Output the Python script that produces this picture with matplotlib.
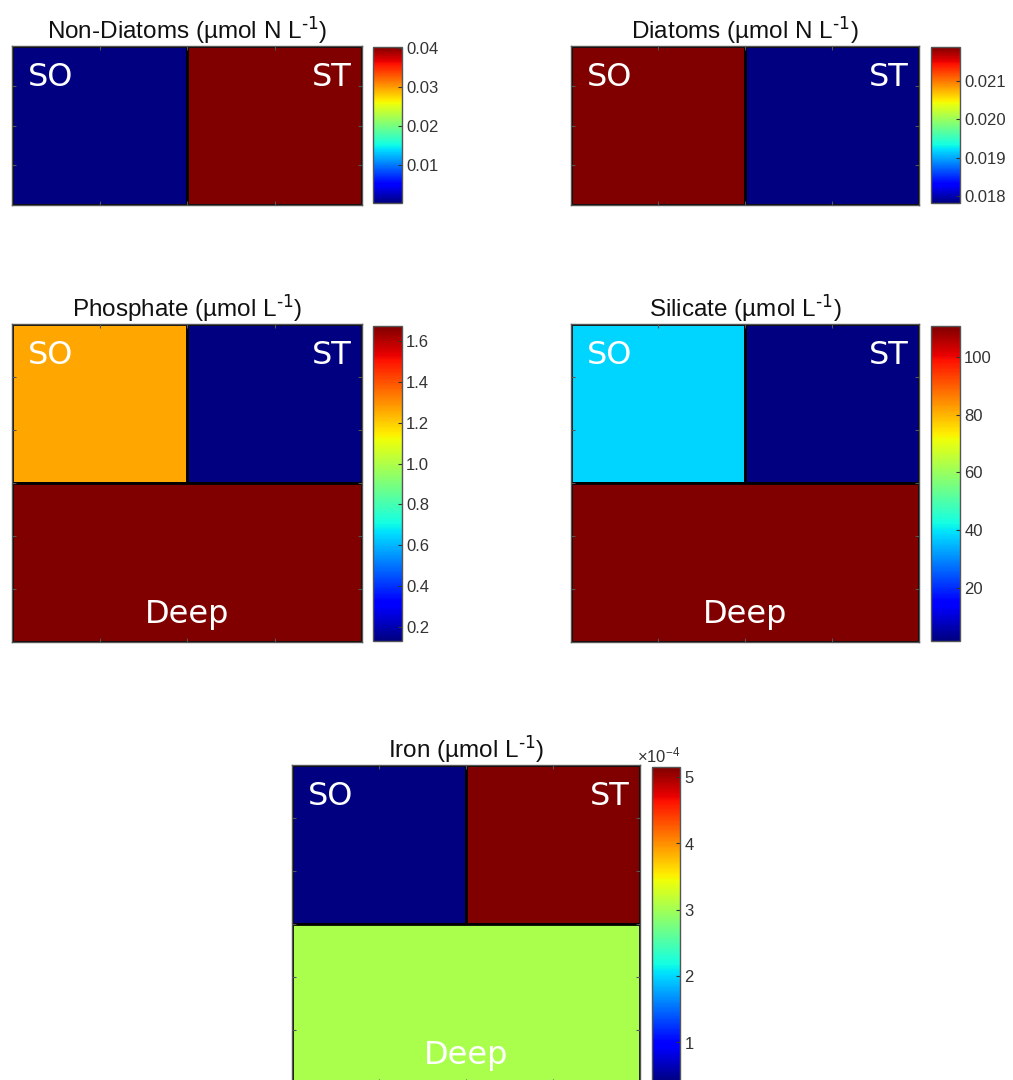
import numpy as np
import matplotlib
matplotlib.use("Agg")
import matplotlib.pyplot as plt
from matplotlib import cm, colors
from matplotlib.ticker import ScalarFormatter

plt.rcParams['font.family'] = ['Liberation Sans', 'DejaVu Sans']
plt.rcParams['mathtext.default'] = 'regular'

# panel titles
titles = ['Non-Diatoms (µmol N L$^{\\text{-1}}$)', 'Diatoms (µmol N L$^{\\text{-1}}$)',
          'Phosphate (µmol L$^{\\text{-1}}$)', 'Silicate (µmol L$^{\\text{-1}}$)',
          'Iron (µmol L$^{\\text{-1}}$)']

# box values: SO, ST, Deep (None = no deep box)
so_vals = [0.0002, 0.02188, 1.26, 38.0, 0.40e-4]
st_vals = [0.0402, 0.01782, 0.132, 1.65, 5.15e-4]
deep_vals = [None, None, 1.673, 110.7, 3.05e-4]

# colorbar ticks
cb_ticks = [[0.01, 0.02, 0.03, 0.04],
            [0.018, 0.019, 0.020, 0.021],
            [0.2, 0.4, 0.6, 0.8, 1.0, 1.2, 1.4, 1.6],
            [20, 40, 60, 80, 100],
            [1e-4, 2e-4, 3e-4, 4e-4, 5e-4]]
cb_labels = [['0.01', '0.02', '0.03', '0.04'],
             ['0.018', '0.019', '0.020', '0.021'],
             ['0.2', '0.4', '0.6', '0.8', '1.0', '1.2', '1.4', '1.6'],
             ['20', '40', '60', '80', '100'],
             None]

W, H = 1013, 1080
# pixel boxes (left, top, right, bottom) for axes and colorbars
ax_px = [(12, 46, 362, 205), (571, 46, 919, 205),
         (12, 324, 362, 642), (571, 324, 919, 642),
         (292, 765, 640, 1083)]
cb_px = [(373, 47, 402, 203), (931, 47, 960, 203),
         (373, 326, 402, 641), (931, 326, 960, 641),
         (652, 767, 680, 1082)]


def rect(p):
    l, t, r, b = p
    return [l / W, 1 - b / H, (r - l) / W, (b - t) / H]


fig = plt.figure(figsize=(W / 100, H / 100), dpi=100)
cmap = plt.get_cmap('jet')
edge = '#555555'
lab = dict(color='white', fontsize=23, family='DejaVu Sans', va='center')

for i in range(5):
    ax = fig.add_axes(rect(ax_px[i]))
    vals = [so_vals[i], st_vals[i]] + ([deep_vals[i]] if deep_vals[i] is not None else [])
    norm = colors.Normalize(vmin=min(vals), vmax=max(vals))
    has_deep = deep_vals[i] is not None
    ybot = -1 if has_deep else 0

    ax.bar([0, 1], [1, 1], width=1, align='edge',
           color=[cmap(norm(so_vals[i])), cmap(norm(st_vals[i]))],
           edgecolor='black', linewidth=2)
    if has_deep:
        ax.bar([0], [1], width=2, bottom=-1, align='edge',
               color=cmap(norm(deep_vals[i])), edgecolor='black', linewidth=2)
    ax.set_xlim(0, 2)
    ax.set_ylim(ybot, 1)

    ax.text(0.09, 0.8, 'SO', ha='left', **lab)
    ax.text(1.94, 0.8, 'ST', ha='right', **lab)
    if has_deep:
        ax.text(1.0, -0.83, 'Deep', ha='center', **lab)

    ax.set_xticks([0.5, 1.0, 1.5])
    ax.set_yticks(np.linspace(ybot, 1, 7)[1:-1] if has_deep else [0.25, 0.5, 0.75])
    ax.tick_params(direction='in', length=3, color=edge, labelbottom=False,
                   labelleft=False, top=True, right=True)
    for s in ax.spines.values():
        s.set_color(edge)
        s.set_linewidth(1)
    ax.set_title(titles[i], fontsize=17.5, pad=4, color='#111111')

    cax = fig.add_axes(rect(cb_px[i]))
    sm = cm.ScalarMappable(norm=norm, cmap=cmap)
    cb = fig.colorbar(sm, cax=cax)
    cb.set_ticks(cb_ticks[i])
    if cb_labels[i] is not None:
        cb.set_ticklabels(cb_labels[i])
    else:
        fmt = ScalarFormatter(useMathText=True)
        fmt.set_powerlimits((0, 0))
        cb.formatter = fmt
        cb.update_ticks()
        cax.yaxis.get_offset_text().set_fontsize(12)
        cax.yaxis.get_offset_text().set_color('#555555')
    cb.outline.set_edgecolor(edge)
    cb.outline.set_linewidth(1)
    cax.tick_params(direction='in', length=3, color='#333333', labelsize=12,
                    labelcolor='#333333', pad=3)

fig.savefig('out.png', dpi=100)
